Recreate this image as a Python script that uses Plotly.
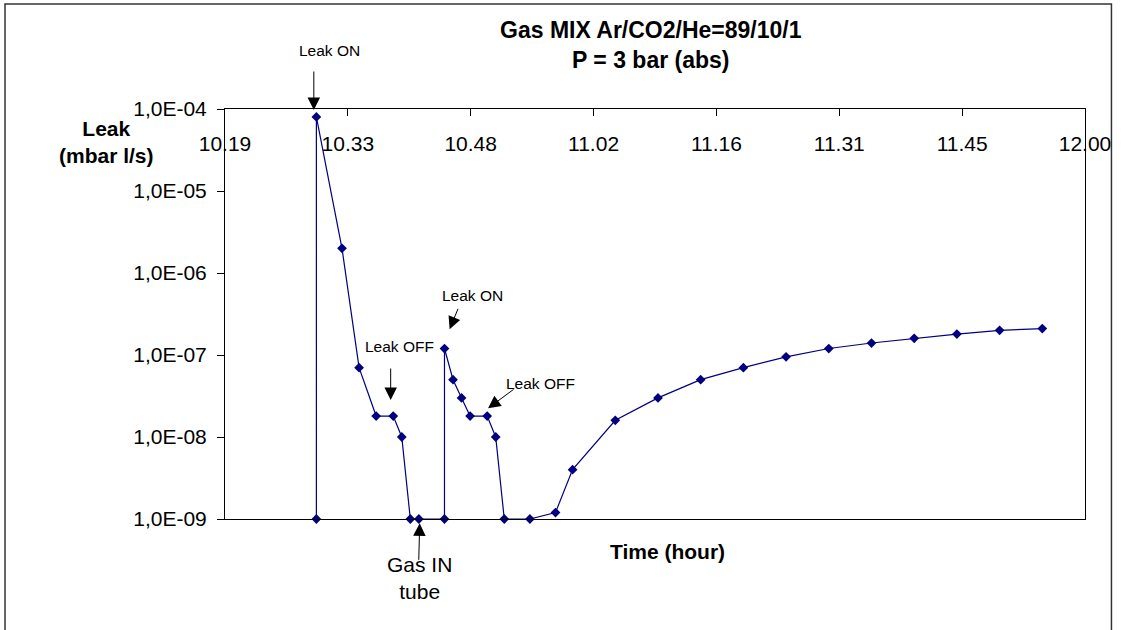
import plotly.graph_objects as go

# ---- data ----
times = ["10:30", "10:30", "10:33", "10:35", "10:37", "10:39", "10:40", "10:41", "10:42",
         "10:45", "10:45", "10:46", "10:47", "10:48", "10:50", "10:51", "10:52", "10:55",
         "10:58", "11:00", "11:05", "11:10", "11:15", "11:20", "11:25", "11:30", "11:35",
         "11:40", "11:45", "11:50", "11:55"]
leak = [1e-9, 8e-5, 2e-6, 7e-8, 1.8e-8, 1.8e-8, 1e-8, 1e-9, 1e-9,
        1e-9, 1.2e-7, 5e-8, 3e-8, 1.8e-8, 1.8e-8, 1e-8, 1e-9, 1e-9,
        1.2e-9, 4e-9, 1.6e-8, 3e-8, 5e-8, 7e-8, 9.5e-8, 1.2e-7, 1.4e-7,
        1.6e-7, 1.8e-7, 2e-7, 2.1e-7]

x_tick_labels = ["10.19", "10.33", "10.48", "11.02", "11.16", "11.31", "11.45", "12.00"]
y_tick_vals = [1e-9, 1e-8, 1e-7, 1e-6, 1e-5, 1e-4]
y_tick_labels = ["1,0E-09", "1,0E-08", "1,0E-07", "1,0E-06", "1,0E-05", "1,0E-04"]


def to_min(s):
    h, m = s.split(":")
    return int(h) * 60 + int(m)


x_min = [to_min(t) for t in times]
x_start, x_end = 619.3, 720.0
n = len(x_tick_labels)
x_tick_vals = [x_start + i * (x_end - x_start) / (n - 1) for i in range(n)]

FONT = "Arial, Liberation Sans, sans-serif"
NAVY = "#000080"

fig = go.Figure()
fig.add_trace(go.Scatter(
    x=x_min, y=leak, mode="lines+markers",
    line=dict(color=NAVY, width=1.2),
    marker=dict(symbol="diamond", size=7.5, color=NAVY),
    cliponaxis=False, showlegend=False,
))

fig.update_layout(
    width=1123, height=630,
    margin=dict(l=225, r=36, t=109, b=111),
    paper_bgcolor="white", plot_bgcolor="white",
    font=dict(family=FONT, color="black", size=21),
    title=dict(text="<b>Gas MIX Ar/CO2/He=89/10/1<br>P = 3 bar (abs)</b>",
               x=0.5795, xanchor="center", y=1 - 38 / 630, yanchor="middle",
               font=dict(size=23, family=FONT, color="black")),
    xaxis=dict(
        range=[x_start, x_end], side="top",
        tickvals=x_tick_vals, ticktext=x_tick_labels,
        ticks="inside", ticklen=7, tickcolor="black",
        ticklabelposition="inside", ticklabeloverflow="allow", ticklabelstandoff=22,
        showline=True, linecolor="black", linewidth=1, mirror=True,
        showgrid=False, zeroline=False,
        tickfont=dict(size=21, family=FONT, color="black"),
    ),
    yaxis=dict(
        type="log", range=[-9, -4],
        tickvals=y_tick_vals, ticktext=y_tick_labels,
        ticks="outside", ticklen=7, tickcolor="black",
        ticklabelstandoff=6,
        showline=True, linecolor="black", linewidth=1, mirror=True,
        showgrid=False, zeroline=False,
        tickfont=dict(size=21, family=FONT, color="black"),
    ),
)

# axis titles (horizontal, Excel-style)
fig.add_annotation(text="<b>Leak<br>(mbar l/s)</b>", xref="paper", yref="paper",
                   x=(106 - 225) / 862, y=(519 - 142) / 410, xanchor="center", yanchor="middle",
                   showarrow=False, font=dict(size=21, family=FONT, color="black"))
fig.add_annotation(text="<b>Time (hour)</b>", xref="paper", yref="paper",
                   x=(669 - 225) / 862, y=(519 - 551) / 410, xanchor="center", yanchor="middle",
                   showarrow=False, font=dict(size=21, family=FONT, color="black"))

# text labels: (text, time in minutes, y in paper units, font size)
labels = [
    ("Leak ON", 631.5, (519 - 50.7) / 410, 15.5),
    ("Leak OFF", 639.7, (519 - 346.7) / 410, 15.5),
    ("Leak ON", 648.3, (519 - 295) / 410, 15.5),
    ("Leak OFF", 656.3, (519 - 383.3) / 410, 15.5),
    ("Gas IN<br>tube", 642.1, (519 - 578) / 410, 21),
]
for txt, lx, ly, fs in labels:
    fig.add_annotation(text=txt, x=lx, y=ly, xref="x", yref="paper", showarrow=False,
                       xanchor="center", yanchor="middle",
                       font=dict(size=fs, family=FONT, color="black"))

# arrows: tip (time, paper y), tail offset in px
arrows = [
    (629.7, (519 - 110) / 410, 0, -40),
    (638.7, (519 - 400) / 410, 0, -33),
    (645.6, (519 - 329.3) / 410, 9, -22),
    (650.1, (519 - 408.3) / 410, 27, -20),
    (642.1, (519 - 523.3) / 410, -1, 38),
]
for axx, ayy, dx, dy in arrows:
    fig.add_annotation(text="", x=axx, y=ayy, xref="x", yref="paper", showarrow=True,
                       ax=dx, ay=dy, arrowhead=2, arrowsize=2.5, arrowwidth=1,
                       arrowcolor="black")

# outer chart border
fig.add_shape(type="rect", xref="paper", yref="paper",
              x0=(4.5 - 225) / 862, x1=(1113.5 - 225) / 862,
              y0=(519 - 660) / 410, y1=(519 - 4) / 410,
              line=dict(color="#333333", width=1.5), fillcolor="rgba(0,0,0,0)", layer="below")

fig.write_html("out.html", config={"displayModeBar": False},
               post_script="document.body.style.margin='0';")
